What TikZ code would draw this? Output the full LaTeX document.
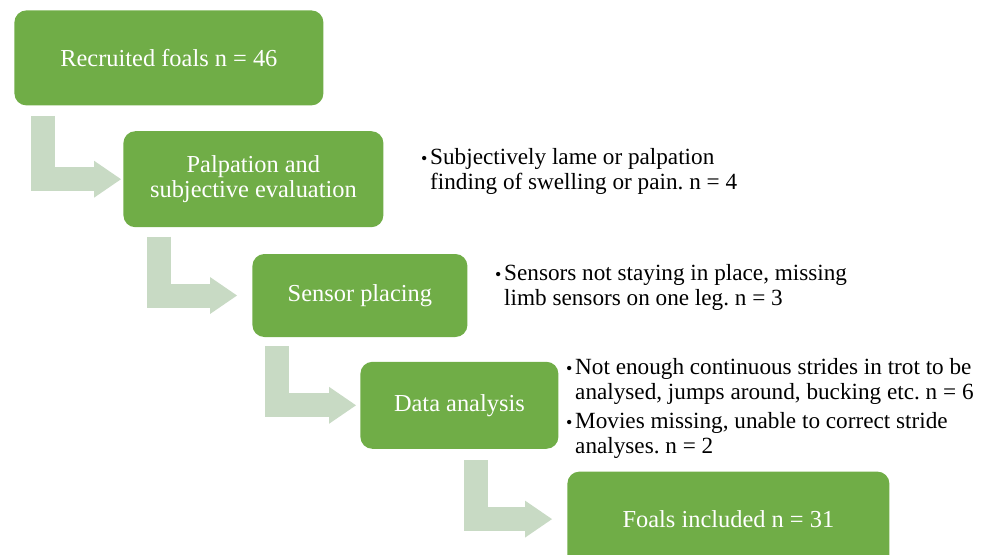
\documentclass[tikz,border=0pt]{standalone}
\usepackage{xcolor}
\usepackage{fontspec}
\setmainfont{Liberation Serif}
\usepackage{tikz}
\usetikzlibrary{arrows.meta,positioning}
\definecolor{BoxGreen}{RGB}{112,173,71}
\definecolor{PaleGreen}{RGB}{200,218,196}
\newcommand{\bul}{\makebox[4.5pt][l]{\fontsize{9}{9}\selectfont\textbullet}}
\newcommand{\hang}{\hspace*{4.5pt}}
\frenchspacing

\begin{document}
\begin{tikzpicture} [>={Triangle[length=13.5pt,width=18.5pt,line width=0pt]},
	   every node/.style={inner sep=0pt},
	   stage/.style 2 args = {rectangle, minimum width=#1, minimum height=#2,
	                          rounded corners=6pt, fill=BoxGreen, text=white, align=center,
	                          font=\fontsize{12.2}{12.5}\selectfont},
	   note/.style = {align=left, text=black, font=\fontsize{11.6}{12.5}\selectfont},
	   flow/.style = {->, draw=PaleGreen, line width=12pt, line join=miter}]
	\useasboundingbox (0,0) rectangle (495pt,-277pt);
	\clip (0,0) rectangle (495pt,-277pt);

	%% Stages
	\node [stage={154.5pt}{47.5pt}, anchor=north west] (recruited) at (7pt,-5pt) {Recruited foals n = 46};
	\node [stage={130pt}{48pt}, below right = 12.5pt and 54.5pt of recruited.south west] (palpation) {Palpation and\\subjective evaluation};
	\node [stage={107.5pt}{41.5pt}, below right = 13pt and 64.5pt of palpation.south west] (placing) {Sensor placing};
	\node [stage={99pt}{43.5pt}, below right = 12pt and 54pt of placing.south west] (analysis) {Data analysis};
	\node [stage={161pt}{47.5pt}, below right = 11pt and 103.5pt of analysis.south west] (included) {Foals included n = 31};

	%% Exclusions
	\node [note, right = 18.5pt of palpation.east, yshift=3.75pt] (lame) {\bul Subjectively lame or palpation\\\hang finding of swelling or pain. n = 4};
	\node [note, right = 13.5pt of placing.east, yshift=4pt] (sensors) {\bul Sensors not staying in place, missing\\\hang limb sensors on one leg. n = 3};
	\node [note, right = 3.5pt of analysis.east, yshift=-1.75pt] (strides) {\bul Not enough continuous strides in trot to be\\\hang analysed, jumps around, bucking etc. n = 6\\[2pt]
	          \bul Movies missing, unable to correct stride\\\hang analyses. n = 2};

	%% Paths
	\draw [flow, shorten >=1pt] ([xshift=14.25pt,yshift=-5pt]recruited.south west) |- (palpation.west);
	\draw [flow, shorten >=7.5pt] ([xshift=18pt,yshift=-4.5pt]palpation.south west) |- (placing.west);
	\draw [flow, shorten >=2pt] ([xshift=12.25pt,yshift=-4.5pt]placing.south west) |- (analysis.west);
	\draw [flow, shorten >=7.5pt] ([xshift=57.75pt,yshift=-5.5pt]analysis.south west) |- (included.west);
\end{tikzpicture}
\end{document}
